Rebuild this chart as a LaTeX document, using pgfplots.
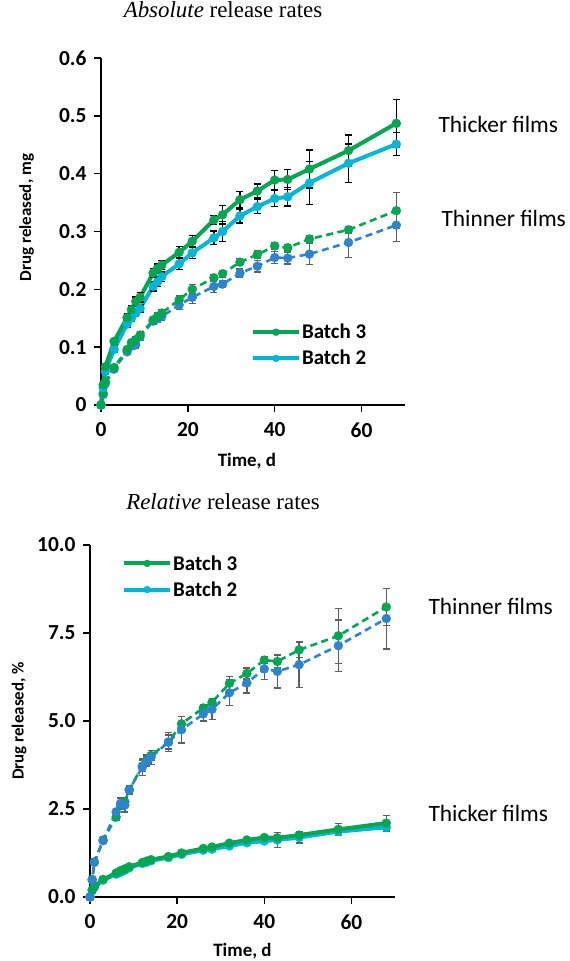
\documentclass[border=0pt]{standalone}
\usepackage{pgfplots}
\usepackage{pgfplotstable}
\pgfplotsset{compat=1.18}
\usepackage{fontspec}
\setmainfont{Carlito}
\newfontfamily\tnr{Liberation Serif}
\definecolor{cgreen}{RGB}{0,166,81}
\definecolor{ccyan}{RGB}{0,182,214}
\definecolor{cblue}{RGB}{46,132,206}
\definecolor{egray}{RGB}{95,95,95}

% Absolute, thicker films
\pgfplotstableread{
x y e
0 0 0
0.5 0.035 0
1 0.066 0.005
3 0.110 0.005
6 0.151 0.006
7 0.165 0.006
8 0.179 0.008
9 0.186 0.008
12 0.228 0.008
13 0.236 0.008
14 0.242 0.008
18 0.264 0.010
21 0.283 0.010
26 0.320 0.008
28 0.329 0.016
32 0.355 0.014
36 0.370 0.012
40 0.389 0.016
43 0.390 0.017
48 0.408 0.033
57 0.440 0.027
68 0.487 0.041
}\absAthick
\pgfplotstableread{
x y e
0 0 0
0.5 0.030 0
1 0.058 0.005
3 0.096 0.005
6 0.140 0.006
7 0.150 0.006
8 0.159 0.006
9 0.167 0.006
12 0.205 0.008
13 0.213 0.008
14 0.222 0.008
18 0.244 0.010
21 0.263 0.010
26 0.289 0.012
28 0.300 0.017
32 0.327 0.012
36 0.343 0.012
40 0.357 0.014
43 0.360 0.016
48 0.384 0.037
57 0.418 0.033
68 0.451 0.020
}\absBthick
\pgfplotstableread{
x y e
0 0 0
0.5 0.020 0
1 0.040 0.003
3 0.065 0.004
6 0.096 0.005
7 0.108 0.005
8 0.113 0.005
9 0.121 0.005
12 0.147 0.006
13 0.153 0.006
14 0.159 0.006
18 0.182 0.007
21 0.200 0.008
26 0.220 0.006
28 0.227 0.006
32 0.247 0.006
36 0.260 0.007
40 0.275 0.006
43 0.272 0.006
48 0.287 0.006
57 0.303 0.006
68 0.336 0.031
}\absAthin
\pgfplotstableread{
x y e
0 0 0
0.5 0.018 0
1 0.037 0.003
3 0.062 0.004
6 0.092 0.005
7 0.102 0.005
8 0.104 0.006
9 0.118 0.006
12 0.145 0.006
13 0.149 0.006
14 0.153 0.006
18 0.173 0.008
21 0.186 0.010
26 0.205 0.010
28 0.209 0.006
32 0.228 0.007
36 0.240 0.010
40 0.255 0.010
43 0.254 0.010
48 0.261 0.018
57 0.281 0.026
68 0.311 0.028
}\absBthin

% Relative
\pgfplotstableread{
x y e
0 0 0
0.5 0.20 0
1 0.30 0.03
3 0.50 0.04
6 0.68 0.04
7 0.75 0.04
8 0.80 0.04
9 0.86 0.04
12 0.98 0.05
13 1.02 0.05
14 1.06 0.05
18 1.15 0.05
21 1.25 0.05
26 1.38 0.05
28 1.42 0.05
32 1.53 0.05
36 1.62 0.05
40 1.69 0.05
43 1.68 0.06
48 1.76 0.06
57 1.92 0.17
68 2.10 0.22
}\relAthick
\pgfplotstableread{
x y e
0 0 0
0.5 0.18 0
1 0.28 0.03
3 0.48 0.04
6 0.65 0.04
7 0.70 0.04
8 0.76 0.04
9 0.83 0.04
12 0.95 0.05
13 0.99 0.05
14 1.03 0.05
18 1.12 0.05
21 1.21 0.05
26 1.33 0.05
28 1.36 0.05
32 1.45 0.05
36 1.54 0.05
40 1.59 0.06
43 1.62 0.21
48 1.69 0.16
57 1.86 0.06
68 1.98 0.06
}\relBthick
\pgfplotstableread{
x y e
0 0 0
0.5 0.50 0
1 1.00 0.05
3 1.62 0.08
6 2.27 0.10
7 2.60 0.12
8 2.70 0.12
9 3.05 0.12
12 3.72 0.15
13 3.88 0.15
14 4.02 0.15
18 4.40 0.20
21 4.92 0.20
26 5.37 0.10
28 5.53 0.10
32 6.07 0.20
36 6.35 0.16
40 6.73 0.10
43 6.69 0.19
48 7.02 0.21
57 7.42 0.78
68 8.24 0.53
}\relAthin
\pgfplotstableread{
x y e
0 0 0
0.5 0.48 0
1 0.98 0.05
3 1.60 0.08
6 2.42 0.10
7 2.66 0.15
8 2.61 0.20
9 3.04 0.12
12 3.69 0.23
13 3.85 0.15
14 3.97 0.20
18 4.40 0.27
21 4.75 0.38
26 5.20 0.20
28 5.33 0.29
32 5.80 0.36
36 6.08 0.28
40 6.48 0.30
43 6.41 0.47
48 6.60 0.64
57 7.14 0.73
68 7.91 0.86
}\relBthin

\pgfplotsset{
  myaxis/.style={
    scale only axis, axis lines=left,
    axis line style={-, line width=1.8bp, black},
    tick align=outside, major tick length=7bp,
    tick style={line width=1.4bp, black},
    xmin=0, xmax=70, xtick={0,20,40,60},
    clip=false,
    ticklabel style={font=\fontsize{21.5}{25}\selectfont\bfseries},
    yticklabel style={xshift=-4bp},
    xticklabel style={yshift=-7bp},
    /pgf/number format/assume math mode=true,
    xlabel style={font=\fontsize{19}{22}\selectfont\bfseries},
    ylabel style={font=\fontsize{17}{20}\selectfont\bfseries},
    legend style={draw=none, fill=none, font=\fontsize{21}{25}\selectfont\bfseries,
      legend cell align=left, row sep=8bp,
      nodes={inner sep=1bp}},
    legend image code/.code={
      \draw[##1, mark=none] (0bp,0bp) -- (46bp,0bp);
      \draw[##1, mark size=3.5bp] plot coordinates {(23bp,0bp)};
    },
  },
  sthick/.style={color=#1, line width=4bp, mark=*, mark size=4.5bp,
    mark options={solid, line width=0.3bp, fill=#1}},
  sthin/.style={color=#1, line width=2.6bp, dash pattern=on 7bp off 4.5bp,
    mark=*, mark size=4.5bp, mark options={solid, line width=0.3bp, fill=#1}},
  eb/.style={error bars/.cd, y dir=both, y explicit,
    error bar style={solid, line width=1.4bp, #1},
    error mark options={rotate=90, solid, line width=1.4bp, mark size=3.5bp, #1},
    /pgfplots/.cd},
}

\begin{document}
\begin{tikzpicture}
\path[use as bounding box] (0bp,0bp) rectangle (570bp,961bp);

\node[font=\tnr\fontsize{23}{27}\selectfont, anchor=base] at (223bp,943bp) {\textit{Absolute} release rates};
\node[font=\tnr\fontsize{23}{27}\selectfont, anchor=base] at (223bp,451bp) {\textit{Relative} release rates};

\begin{axis}[myaxis, at={(101bp,556bp)}, anchor=south west, width=304bp, height=347bp,
  ymin=0, ymax=0.6, ytick={0,0.1,0.2,0.3,0.4,0.5,0.6},
  yticklabels={0,0.1,0.2,0.3,0.4,0.5,0.6}, xticklabels={0,20,40,60},
  xlabel={Time, d}, ylabel={Drug released, mg},
  xlabel style={at={(axis description cs:0.48,-0.163)}, anchor=center},
  ylabel style={at={(axis description cs:-0.245,0.54)}, anchor=center},
  legend style={at={(axis description cs:0.483,0.172)}, anchor=west}]
\addplot[forget plot, sthin=cblue, eb=egray] table[x=x,y=y,y error=e]{\absBthin};
\addplot[forget plot, sthin=cgreen, eb=egray] table[x=x,y=y,y error=e]{\absAthin};
\addplot[forget plot, sthick=ccyan, eb=black] table[x=x,y=y,y error=e]{\absBthick};
\addplot[sthick=cgreen, eb=black] table[x=x,y=y,y error=e]{\absAthick};
\addlegendentry{Batch 3}
\addlegendimage{sthick=ccyan}
\addlegendentry{Batch 2}
\end{axis}

\begin{axis}[myaxis, at={(90bp,64bp)}, anchor=south west, width=305bp, height=352bp,
  ymin=0, ymax=10, ytick={0,2.5,5,7.5,10},
  yticklabels={0.0,2.5,5.0,7.5,10.0}, xticklabels={0,20,40,60},
  xlabel={Time, d}, ylabel={Drug released, \%},
  xlabel style={at={(axis description cs:0.5,-0.155)}, anchor=center},
  ylabel style={at={(axis description cs:-0.232,0.5)}, anchor=center},
  legend style={at={(axis description cs:0.095,0.9105)}, anchor=west}]
\addplot[forget plot, sthick=ccyan, eb=egray] table[x=x,y=y,y error=e]{\relBthick};
\addplot[forget plot, sthick=cgreen, eb=egray] table[x=x,y=y,y error=e]{\relAthick};
\addplot[forget plot, sthin=cgreen, eb=egray] table[x=x,y=y,y error=e]{\relAthin};
\addplot[forget plot, sthin=cblue, eb=egray] table[x=x,y=y,y error=e]{\relBthin};
\addlegendimage{sthick=cgreen}
\addlegendentry{Batch 3}
\addlegendimage{sthick=ccyan}
\addlegendentry{Batch 2}
\end{axis}

\node[font=\fontsize{23.5}{27}\selectfont, anchor=west] at (435bp,837bp) {Thicker films};
\node[font=\fontsize{23.5}{27}\selectfont, anchor=west] at (438bp,743bp) {Thinner films};
\node[font=\fontsize{23.5}{27}\selectfont, anchor=west] at (425bp,355bp) {Thinner films};
\node[font=\fontsize{23.5}{27}\selectfont, anchor=west] at (425bp,148bp) {Thicker films};
\end{tikzpicture}
\end{document}
